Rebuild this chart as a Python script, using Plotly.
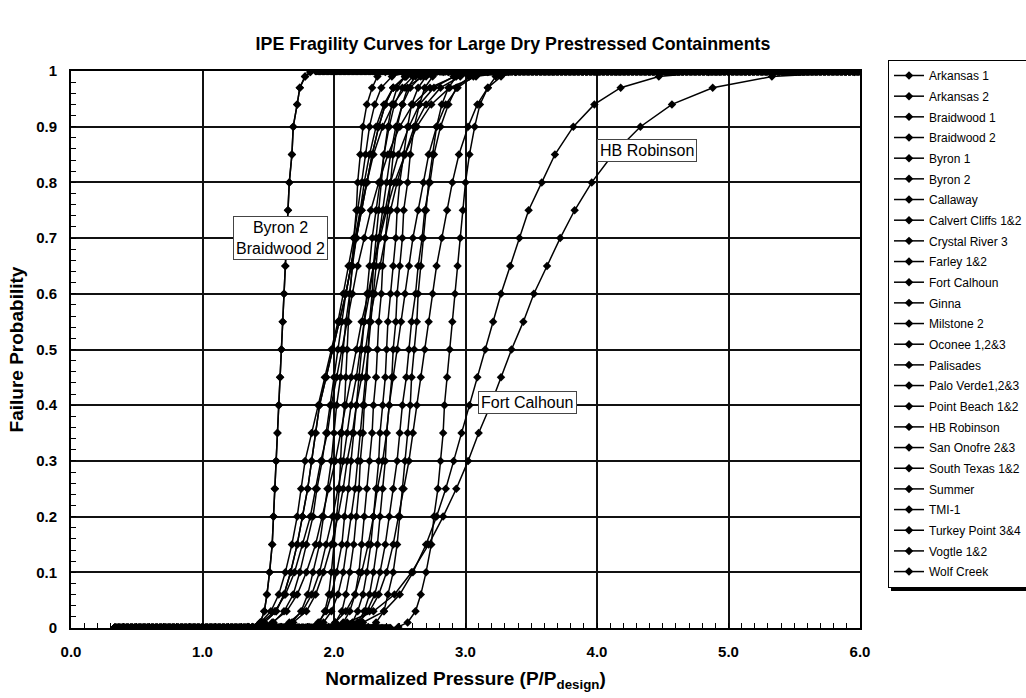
import plotly.graph_objects as go

p_levels = [0.0, 0.002, 0.01, 0.03, 0.06, 0.1, 0.15, 0.2, 0.25, 0.3, 0.35, 0.4, 0.45, 0.5,
            0.55, 0.6, 0.65, 0.7, 0.75, 0.8, 0.85, 0.9, 0.94, 0.97, 0.99, 0.998, 1.0]
x_first = 0.33       # first sampled pressure of every curve (p = 0)
x_last = 6.0         # last sampled pressure of every curve (p = 1)
sample_step = 0.01   # pressure sampling step of the source curves on their flat parts

arkansas_1 = [1.24, 1.34, 1.45, 1.55, 1.63, 1.70, 1.76, 1.82, 1.86, 1.90, 1.95, 1.98, 2.02, 2.06, 2.10, 2.14, 2.18, 2.23, 2.28, 2.34, 2.41, 2.50, 2.60, 2.73, 2.92, 3.17, 3.43]
arkansas_2 = [1.30, 1.41, 1.53, 1.64, 1.72, 1.79, 1.86, 1.91, 1.96, 2.01, 2.05, 2.09, 2.13, 2.17, 2.21, 2.26, 2.30, 2.35, 2.40, 2.46, 2.54, 2.63, 2.74, 2.88, 3.08, 3.30, 3.50]
braidwood_1 = [1.30, 1.38, 1.47, 1.56, 1.62, 1.67, 1.72, 1.76, 1.80, 1.83, 1.86, 1.89, 1.94, 1.99, 2.04, 2.09, 2.13, 2.17, 2.21, 2.25, 2.29, 2.34, 2.39, 2.45, 2.54, 2.66, 2.78]
braidwood_2 = [1.37, 1.41, 1.44, 1.47, 1.49, 1.51, 1.53, 1.54, 1.55, 1.56, 1.57, 1.58, 1.59, 1.60, 1.61, 1.62, 1.63, 1.64, 1.65, 1.66, 1.68, 1.69, 1.72, 1.74, 1.78, 1.82, 1.86]
byron_1 = [1.30, 1.38, 1.47, 1.56, 1.62, 1.67, 1.72, 1.76, 1.80, 1.83, 1.86, 1.89, 1.94, 1.99, 2.04, 2.09, 2.13, 2.17, 2.21, 2.25, 2.29, 2.34, 2.39, 2.45, 2.54, 2.66, 2.78]
byron_2 = [1.37, 1.41, 1.44, 1.47, 1.49, 1.51, 1.53, 1.54, 1.55, 1.56, 1.57, 1.58, 1.59, 1.60, 1.61, 1.62, 1.63, 1.64, 1.65, 1.66, 1.68, 1.69, 1.72, 1.74, 1.78, 1.82, 1.86]
callaway = [1.74, 1.81, 1.88, 1.94, 1.98, 2.02, 2.06, 2.08, 2.11, 2.13, 2.15, 2.17, 2.19, 2.21, 2.23, 2.25, 2.27, 2.29, 2.32, 2.35, 2.38, 2.42, 2.46, 2.52, 2.60, 2.70, 2.80]
calvert_cliffs = [1.49, 1.59, 1.69, 1.79, 1.86, 1.92, 1.98, 2.03, 2.07, 2.10, 2.14, 2.17, 2.21, 2.24, 2.27, 2.31, 2.35, 2.39, 2.43, 2.48, 2.54, 2.61, 2.70, 2.81, 2.96, 3.17, 3.37]
crystal_river = [1.52, 1.60, 1.68, 1.75, 1.80, 1.84, 1.89, 1.92, 1.95, 1.98, 2.00, 2.02, 2.05, 2.07, 2.09, 2.12, 2.14, 2.17, 2.20, 2.23, 2.27, 2.32, 2.38, 2.45, 2.55, 2.68, 2.81]
farley = [2.03, 2.10, 2.19, 2.25, 2.31, 2.35, 2.39, 2.42, 2.45, 2.48, 2.50, 2.52, 2.55, 2.57, 2.59, 2.62, 2.64, 2.67, 2.69, 2.73, 2.76, 2.81, 2.87, 2.93, 3.03, 3.14, 3.26]
fort_calhoun = [1.70, 1.88, 2.10, 2.30, 2.46, 2.59, 2.72, 2.83, 2.93, 3.02, 3.10, 3.19, 3.27, 3.35, 3.44, 3.52, 3.62, 3.72, 3.83, 3.96, 4.12, 4.33, 4.57, 4.88, 5.33, 5.96, 6.00]
ginna = [1.46, 1.56, 1.66, 1.76, 1.83, 1.89, 1.94, 1.99, 2.03, 2.07, 2.10, 2.13, 2.17, 2.20, 2.23, 2.27, 2.30, 2.34, 2.39, 2.43, 2.49, 2.57, 2.65, 2.76, 2.91, 3.11, 3.31]
milstone_2 = [1.35, 1.44, 1.54, 1.62, 1.69, 1.74, 1.79, 1.84, 1.87, 1.91, 1.94, 1.97, 2.00, 2.03, 2.06, 2.09, 2.13, 2.16, 2.20, 2.25, 2.30, 2.37, 2.45, 2.54, 2.68, 2.87, 3.05]
oconee = [2.20, 2.26, 2.32, 2.38, 2.41, 2.45, 2.48, 2.50, 2.52, 2.54, 2.56, 2.58, 2.59, 2.61, 2.63, 2.64, 2.66, 2.68, 2.70, 2.72, 2.75, 2.78, 2.82, 2.87, 2.93, 3.02, 3.09]
palisades = [2.03, 2.08, 2.14, 2.18, 2.22, 2.25, 2.28, 2.30, 2.32, 2.34, 2.35, 2.37, 2.39, 2.40, 2.41, 2.43, 2.45, 2.47, 2.48, 2.50, 2.53, 2.56, 2.59, 2.64, 2.70, 2.77, 2.84]
palo_verde = [1.91, 1.96, 2.01, 2.06, 2.09, 2.12, 2.15, 2.17, 2.19, 2.20, 2.22, 2.23, 2.25, 2.26, 2.27, 2.29, 2.30, 2.32, 2.34, 2.36, 2.38, 2.41, 2.44, 2.48, 2.54, 2.61, 2.68]
point_beach = [1.98, 2.08, 2.18, 2.27, 2.34, 2.40, 2.45, 2.49, 2.53, 2.57, 2.60, 2.63, 2.66, 2.69, 2.72, 2.75, 2.78, 2.82, 2.86, 2.90, 2.95, 3.02, 3.09, 3.17, 3.27, 3.38, 3.48]
hb_robinson = [1.89, 2.04, 2.22, 2.38, 2.50, 2.60, 2.70, 2.78, 2.85, 2.91, 2.97, 3.03, 3.09, 3.15, 3.21, 3.27, 3.34, 3.41, 3.48, 3.58, 3.68, 3.82, 3.98, 4.18, 4.47, 4.85, 5.25]
san_onofre = [2.07, 2.12, 2.18, 2.23, 2.27, 2.30, 2.33, 2.35, 2.37, 2.39, 2.40, 2.42, 2.44, 2.45, 2.47, 2.48, 2.50, 2.52, 2.53, 2.56, 2.58, 2.61, 2.65, 2.69, 2.75, 2.83, 2.90]
south_texas = [2.43, 2.49, 2.56, 2.62, 2.66, 2.70, 2.74, 2.76, 2.79, 2.81, 2.83, 2.84, 2.86, 2.88, 2.90, 2.92, 2.94, 2.96, 2.98, 3.00, 3.03, 3.07, 3.11, 3.17, 3.23, 3.33, 3.41]
summer = [1.80, 1.85, 1.89, 1.93, 1.96, 1.98, 2.00, 2.02, 2.04, 2.05, 2.06, 2.08, 2.09, 2.10, 2.11, 2.12, 2.14, 2.15, 2.17, 2.18, 2.20, 2.22, 2.25, 2.29, 2.33, 2.39, 2.45]
tmi_1 = [1.83, 1.92, 2.01, 2.09, 2.16, 2.21, 2.26, 2.30, 2.33, 2.37, 2.40, 2.42, 2.45, 2.48, 2.51, 2.54, 2.57, 2.60, 2.64, 2.68, 2.72, 2.78, 2.85, 2.94, 3.06, 3.21, 3.37]
turkey_point = [1.26, 1.35, 1.44, 1.52, 1.58, 1.63, 1.68, 1.72, 1.75, 1.78, 1.83, 1.88, 1.93, 1.98, 2.03, 2.07, 2.11, 2.15, 2.18, 2.21, 2.24, 2.27, 2.31, 2.36, 2.44, 2.55, 2.65]
vogtle = [1.97, 2.02, 2.07, 2.12, 2.16, 2.19, 2.21, 2.23, 2.25, 2.27, 2.29, 2.30, 2.32, 2.33, 2.34, 2.36, 2.37, 2.39, 2.41, 2.43, 2.45, 2.48, 2.52, 2.56, 2.62, 2.69, 2.76]
wolf_creek = [1.78, 1.85, 1.92, 1.98, 2.03, 2.07, 2.10, 2.13, 2.16, 2.18, 2.20, 2.22, 2.24, 2.26, 2.28, 2.30, 2.32, 2.34, 2.37, 2.40, 2.43, 2.47, 2.52, 2.58, 2.66, 2.76, 2.87]

plant_names = ["Arkansas 1", "Arkansas 2", "Braidwood 1", "Braidwood 2", "Byron 1", "Byron 2",
               "Callaway", "Calvert Cliffs 1&2", "Crystal River 3", "Farley 1&2", "Fort Calhoun",
               "Ginna", "Milstone 2", "Oconee 1,2&3", "Palisades", "Palo Verde1,2&3",
               "Point Beach 1&2", "HB Robinson", "San Onofre 2&3", "South Texas 1&2", "Summer",
               "TMI-1", "Turkey Point 3&4", "Vogtle 1&2", "Wolf Creek"]
plant_curves = [arkansas_1, arkansas_2, braidwood_1, braidwood_2, byron_1, byron_2,
                callaway, calvert_cliffs, crystal_river, farley, fort_calhoun,
                ginna, milstone_2, oconee, palisades, palo_verde,
                point_beach, hb_robinson, san_onofre, south_texas, summer,
                tmi_1, turkey_point, vogtle, wolf_creek]

x_ticks = [0, 1, 2, 3, 4, 5, 6]
x_tick_text = ["0.0", "1.0", "2.0", "3.0", "4.0", "5.0", "6.0"]
y_ticks = [0, 0.1, 0.2, 0.3, 0.4, 0.5, 0.6, 0.7, 0.8, 0.9, 1.0]
y_tick_text = ["0", "0.1", "0.2", "0.3", "0.4", "0.5", "0.6", "0.7", "0.8", "0.9", "1"]

FONT = "Arial, 'Liberation Sans', sans-serif"

# figure / plot-area geometry in pixels (used to place the legend and its drop shadow)
FIG_W, FIG_H = 1026, 698
M_L, M_R, M_T, M_B = 71, 166, 71, 70
PLOT_W = FIG_W - M_L - M_R
PLOT_H = FIG_H - M_T - M_B
LEG_LEFT, LEG_BOTTOM = 888, 588
LEG_ITEM, LEG_GAP, N_ITEMS = 19, 1.67, len(plant_names)
LEG_H = N_ITEMS * (LEG_ITEM + LEG_GAP) + 8
LEG_W = 137
LEG_TOP = LEG_BOTTOM - LEG_H


def flat_before(x_lift):
    """sample positions of a curve while it is still at p = 0"""
    n = int(round((x_lift - x_first) / sample_step))
    return [round(x_first + sample_step * k, 2) for k in range(n)]


def flat_after(x_sat):
    """sample positions of a curve once it has reached p = 1"""
    n = int(round((x_last - x_sat) / sample_step))
    return [round(x_sat + sample_step * (k + 1), 2) for k in range(n)]


fig = go.Figure()
for i, (name, xs) in enumerate(zip(plant_names, plant_curves)):
    assert len(xs) == len(p_levels)
    before = flat_before(xs[0])
    after = flat_after(xs[-1])
    fig.add_trace(go.Scatter(
        x=before + xs + after,
        y=[0.0] * len(before) + p_levels + [1.0] * len(after),
        mode="lines+markers",
        name=name,
        legendgroup=f"g{i}",
        line=dict(color="black", width=1.5),
        marker=dict(symbol="diamond", size=6.5, color="black", line=dict(width=0)),
    ))

axis_common = dict(
    showline=True, linecolor="black", linewidth=2, mirror=True,
    showgrid=True, gridcolor="#111111", gridwidth=1.5,
    ticks="inside", ticklen=5, tickcolor="black", tickwidth=1,
    tickfont=dict(family=FONT, size=15, color="black", weight="bold"),
    zeroline=False,
)

fig.update_xaxes(range=[0, 6], tickvals=x_ticks, ticktext=x_tick_text, ticklabelstandoff=9,
                 minor=dict(dtick=0.1, ticks="inside", ticklen=5, tickcolor="black", showgrid=False),
                 title=dict(text="Normalized Pressure (P/P<sub>design</sub>)",
                            font=dict(family=FONT, size=19, color="black", weight="bold"), standoff=13),
                 **axis_common)
fig.update_yaxes(range=[0, 1], tickvals=y_ticks, ticktext=y_tick_text, ticklabelstandoff=9,
                 minor=dict(dtick=0.02, ticks="inside", ticklen=5, tickcolor="black", showgrid=False),
                 title=dict(text="Failure Probability",
                            font=dict(family=FONT, size=19, color="black", weight="bold"), standoff=7),
                 **axis_common)

ann_style = dict(showarrow=False, font=dict(family=FONT, size=16, color="black"),
                 bgcolor="white", bordercolor="#444444", borderwidth=1, borderpad=2,
                 xref="x", yref="y")
fig.add_annotation(x=1.59, y=0.70, text="Byron 2<br>Braidwood 2", **ann_style)
fig.add_annotation(x=4.38, y=0.857, text="HB Robinson", **ann_style)
fig.add_annotation(x=3.47, y=0.405, text="Fort Calhoun", **ann_style)

# drop shadow of the legend box (bottom and right edges)
fig.add_shape(type="rect", xref="paper", yref="paper", layer="above",
              x0=(LEG_LEFT + 3 - M_L) / PLOT_W, x1=(LEG_LEFT + LEG_W + 3 - M_L) / PLOT_W,
              y0=(FIG_H - M_B - (LEG_BOTTOM + 3)) / PLOT_H,
              y1=(FIG_H - M_B - (LEG_TOP + 3)) / PLOT_H,
              fillcolor="black", line=dict(width=0))

fig.update_layout(
    width=FIG_W, height=FIG_H,
    margin=dict(l=M_L, r=M_R, t=M_T, b=M_B, autoexpand=False),
    paper_bgcolor="white", plot_bgcolor="white",
    title=dict(text="IPE Fragility Curves for Large Dry Prestressed Containments",
               x=0.5, xanchor="center", y=0.938, yanchor="middle",
               font=dict(family=FONT, size=17.8, color="black", weight="bold")),
    legend=dict(x=(LEG_LEFT - M_L) / PLOT_W, y=(FIG_H - M_B - LEG_BOTTOM) / PLOT_H,
                xanchor="left", yanchor="bottom",
                bgcolor="white", bordercolor="black", borderwidth=1,
                font=dict(family=FONT, size=12, color="black"),
                tracegroupgap=LEG_GAP),
    showlegend=True,
)

fig.write_html("out.html")
